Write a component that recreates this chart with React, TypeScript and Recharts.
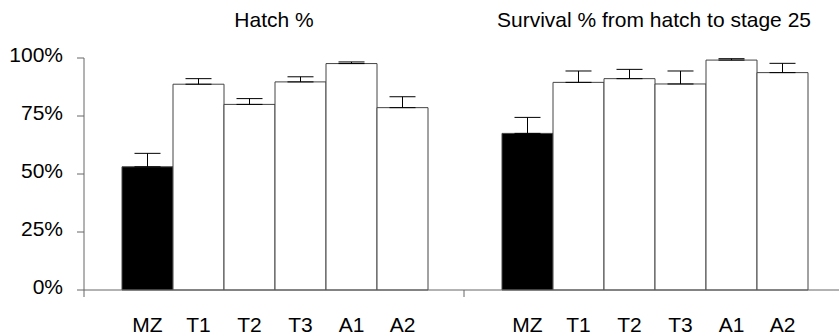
import { Bar, BarChart, ErrorBar, LabelList, XAxis, YAxis } from "recharts";

const GROUPS = ["Hatch %", "Survival % from hatch to stage 25"];
const SERIES = ["MZ", "T1", "T2", "T3", "A1", "A2"];
const HATCH = [53.1, 88.7, 80.0, 89.7, 97.6, 78.6];
const HATCH_ERR = [5.8, 2.4, 2.5, 2.2, 0.7, 4.7];
const SURVIVAL = [67.5, 89.5, 91.1, 88.8, 99.1, 93.7];
const SURVIVAL_ERR = [6.9, 4.9, 4.0, 5.6, 0.6, 4.0];
const Y_TICKS = [0, 25, 50, 75, 100];

const FONT = "'Liberation Sans', Arial, sans-serif";

// one row per panel, one column per series (plus its upper error)
const data = GROUPS.map((g, gi) => {
  const vals = gi === 0 ? HATCH : SURVIVAL;
  const errs = gi === 0 ? HATCH_ERR : SURVIVAL_ERR;
  const row: Record<string, unknown> = { x: gi, group: g };
  SERIES.forEach((s, si) => {
    row[s] = vals[si];
    row[s + "_err"] = [0, errs[si]];
  });
  return row;
});

const seriesLabel = (name: string) => (props: any) => {
  const { x, y, width, height } = props.viewBox ?? props;
  return (
    <text
      x={x + width / 2}
      y={y + height + 42}
      textAnchor="middle"
      fontFamily={FONT}
      fontSize={21}
      fill="#000"
    >
      {name}
    </text>
  );
};

export default function App() {
  return (
    <div style={{ position: "absolute", left: 0, top: 0, width: 839, height: 335, overflow: "hidden", background: "#fff" }}>
      <BarChart
        width={845}
        height={335}
        data={data}
        margin={{ top: 0, right: 1, bottom: 0, left: 0 }}
        barCategoryGap="10%"
        barGap={0}
      >
        <XAxis
          xAxisId="top"
          orientation="top"
          dataKey="x"
          type="number"
          domain={[-0.5, 1.5]}
          allowDataOverflow
          ticks={[0, 1]}
          tickFormatter={(i: number) => GROUPS[i] ?? ""}
          axisLine={false}
          tickLine={false}
          tickSize={0}
          tickMargin={31}
          height={58}
          tick={{ fontFamily: FONT, fontSize: 21, fill: "#000" }}
          interval={0}
        />
        <XAxis
          dataKey="x"
          type="number"
          domain={[-0.5, 1.5]}
          allowDataOverflow
          ticks={[-0.5, 0.5, 1.5]}
          tickFormatter={() => ""}
          tickSize={7}
          height={45}
          stroke="#666"
          interval={0}
        />
        <YAxis
          domain={[0, 100]}
          ticks={Y_TICKS}
          tickFormatter={(v: number) => `${v}%`}
          width={84}
          tickSize={7}
          tickMargin={14}
          stroke="#666"
          tick={{ fontFamily: FONT, fontSize: 21, fill: "#000", dy: -3 }}
          interval={0}
        />
        {SERIES.map((s, si) => (
          <Bar
            key={s}
            dataKey={s}
            fill={si === 0 ? "#000" : "#fff"}
            stroke="#444"
            strokeWidth={1}
            isAnimationActive={false}
          >
            <ErrorBar dataKey={s + "_err"} width={13} stroke="#000" strokeWidth={1} direction="y" />
            <LabelList dataKey={s} content={seriesLabel(s)} />
          </Bar>
        ))}
      </BarChart>
    </div>
  );
}
